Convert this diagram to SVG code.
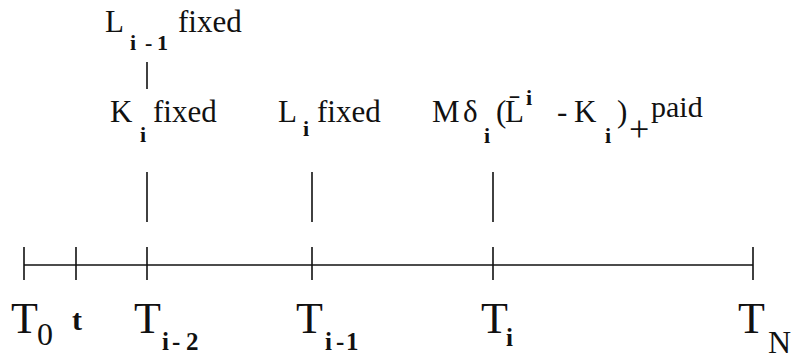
<svg xmlns="http://www.w3.org/2000/svg" width="792" height="354" viewBox="0 0 792 354" font-family="'Liberation Serif', 'DejaVu Serif', serif">
<style>
text{font-family:'Liberation Serif','DejaVu Serif',serif;fill:#111}
.m{font-size:31px}
.sb{font-size:22px;font-weight:bold}
.T{font-size:44px}
.ln{stroke:#111;stroke-width:1.6;fill:none}
</style>
<rect width="792" height="354" fill="#fff"/>
<g id="connectors">
<line class="ln" x1="24" y1="265" x2="753" y2="265"/>
<line class="ln" x1="24" y1="247" x2="24" y2="280"/>
<line class="ln" x1="76" y1="247" x2="76" y2="280"/>
<line class="ln" x1="147" y1="247" x2="147" y2="280"/>
<line class="ln" x1="312" y1="247" x2="312" y2="280"/>
<line class="ln" x1="493" y1="247" x2="493" y2="280"/>
<line class="ln" x1="753" y1="247" x2="753" y2="280"/>
<line class="ln" x1="147" y1="62" x2="147" y2="89"/>
<line class="ln" x1="147" y1="172" x2="147" y2="222"/>
<line class="ln" x1="312" y1="172" x2="312" y2="222"/>
<line class="ln" x1="493" y1="172" x2="493" y2="222"/>
</g>
<g id="label-Lim1">
<text class="m" x="105" y="32">L</text>
<text class="sb" y="50"><tspan x="130">i</tspan><tspan x="145">-</tspan><tspan x="157">1</tspan></text>
<text class="m" x="178" y="32">fixed</text>
</g>
<g id="label-Ki">
<text class="m" x="110" y="122">K</text>
<text class="sb" x="140" y="142">i</text>
<text class="m" x="153" y="122">fixed</text>
</g>
<g id="label-Li">
<text class="m" x="278" y="122">L</text>
<text class="sb" x="303" y="136">i</text>
<text class="m" x="317" y="122">fixed</text>
</g>
<g id="label-paid">
<text class="m" x="432" y="122">M</text>
<text class="m" x="463" y="122">δ</text>
<text class="sb" x="484" y="143">i</text>
<text class="m" x="496" y="122">(</text>
<text class="m" x="505" y="122">L̄</text>
<text class="sb" x="526" y="105">i</text>
<text class="m" x="557" y="122">-</text>
<text class="m" x="574" y="122">K</text>
<text class="sb" x="605" y="143">i</text>
<text class="m" x="617" y="122">)</text>
<text class="m" x="629" y="141" style="font-size:36px">+</text>
<text class="m" x="651" y="117" style="font-size:30px">paid</text>
</g>
<g id="tick-T0">
<text class="T" x="11" y="333">T</text>
<text x="37" y="345" style="font-size:32px">0</text>
</g>
<g id="tick-t">
<text x="72" y="330" style="font-size:30px;font-weight:bold">t</text>
</g>
<g id="tick-Tim2">
<text class="T" x="134" y="333">T</text>
<text class="sb" y="350" style="font-size:25px"><tspan x="162">i</tspan><tspan x="172">-</tspan><tspan x="186">2</tspan></text>
</g>
<g id="tick-Tim1">
<text class="T" x="296" y="333">T</text>
<text class="sb" y="350" style="font-size:25px"><tspan x="325">i</tspan><tspan x="336">-</tspan><tspan x="346">1</tspan></text>
</g>
<g id="tick-Ti">
<text class="T" x="481" y="333">T</text>
<text class="sb" x="506" y="346" style="font-size:25px">i</text>
</g>
<g id="tick-TN">
<text class="T" x="738" y="333">T</text>
<text x="768" y="353" style="font-size:32px">N</text>
</g>
</svg>
